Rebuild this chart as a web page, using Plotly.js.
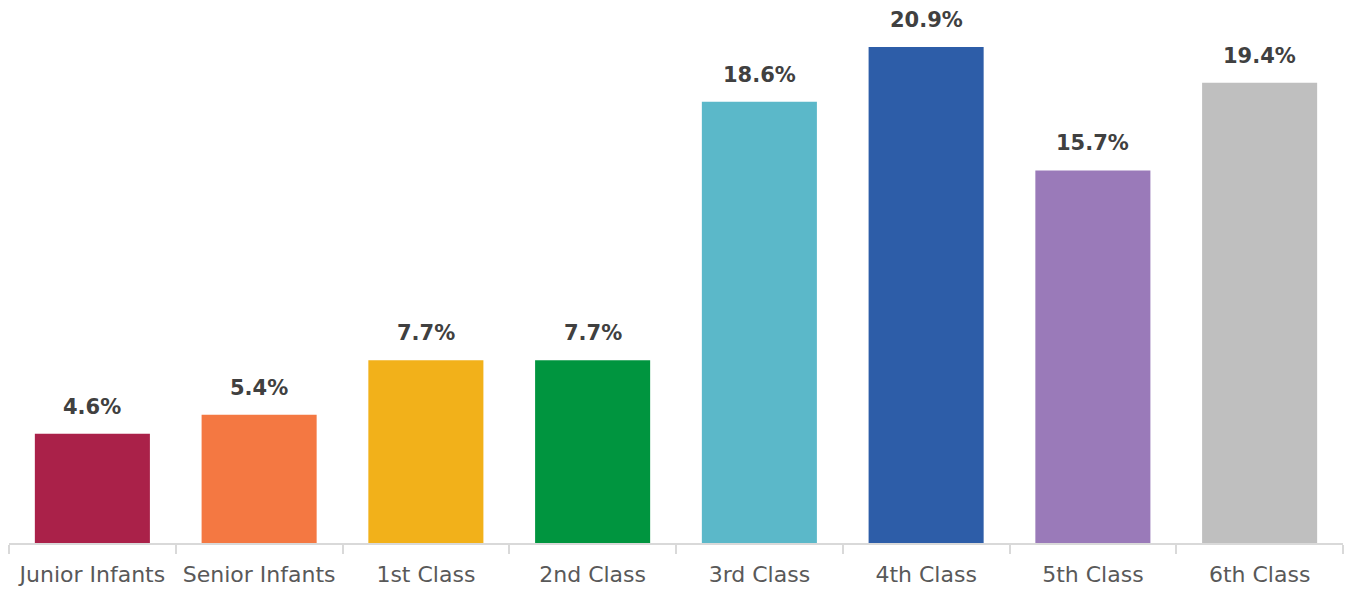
<!DOCTYPE html>
<html>
<head>
<meta charset="utf-8">
<script src="https://cdn.plot.ly/plotly-3.0.1.min.js"></script>
<style>html,body{margin:0;padding:0;background:#fff;}#chart{width:1351px;height:589px;}</style>
</head>
<body>
<div id="chart"></div>
<script>
const categories = ["Junior Infants", "Senior Infants", "1st Class", "2nd Class", "3rd Class", "4th Class", "5th Class", "6th Class"];
const values = [4.6, 5.4, 7.7, 7.7, 18.6, 20.9, 15.7, 19.4];
const barColors = ["#AA2149", "#F47842", "#F2B11A", "#00953F", "#5BB8C9", "#2D5DA8", "#9A7AB9", "#BFBFBF"];
const valueLabels = values.map(v => v.toFixed(1) + "%");

const FONT = "'DejaVu Sans', sans-serif";

const trace = {
  type: "bar",
  x: categories,
  y: values,
  marker: { color: barColors, line: { width: 0 } },
  hoverinfo: "none"
};

const annotations = categories.map((c, i) => ({
  x: c, y: values[i], xref: "x", yref: "y",
  text: "<b>" + valueLabels[i] + "</b>",
  showarrow: false, yanchor: "bottom", yshift: 13,
  font: { family: FONT, size: 21, color: "#404040" }
}));

const layout = {
  width: 1351, height: 589,
  margin: { l: 9, r: 8, t: 20, b: 46 },
  paper_bgcolor: "#ffffff", plot_bgcolor: "#ffffff",
  bargap: 0.31,
  showlegend: false,
  xaxis: {
    type: "category",
    showline: true, linecolor: "#D9D9D9", linewidth: 2,
    ticks: "outside", tickson: "boundaries", ticklen: 9, tickcolor: "#D9D9D9", tickwidth: 2,
    showgrid: false, zeroline: false,
    tickfont: { family: FONT, size: 22, color: "#595959" },
    ticklabelstandoff: 11
  },
  yaxis: { range: [0, 22.04], visible: false, showgrid: false, zeroline: false },
  annotations: annotations
};

Plotly.newPlot("chart", [trace], layout, { displayModeBar: false, staticPlot: true });
</script>
</body>
</html>
